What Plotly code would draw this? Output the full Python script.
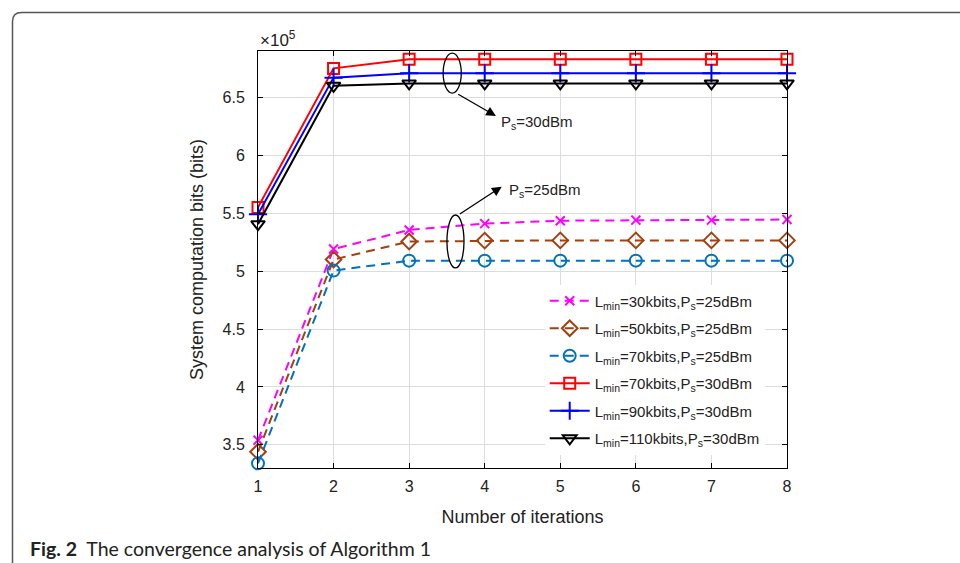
import plotly.graph_objects as go

iterations = [1, 2, 3, 4, 5, 6, 7, 8]
s30k_25 = [3.54, 5.19, 5.355, 5.41, 5.435, 5.44, 5.44, 5.445]
s50k_25 = [3.44, 5.10, 5.255, 5.263, 5.265, 5.265, 5.265, 5.265]
s70k_25 = [3.34, 5.004, 5.09, 5.09, 5.09, 5.09, 5.09, 5.09]
s70k_30 = [5.55, 6.75, 6.828, 6.828, 6.828, 6.828, 6.828, 6.828]
s90k_30 = [5.49, 6.67, 6.707, 6.707, 6.707, 6.707, 6.707, 6.707]
s110k_30 = [5.405, 6.60, 6.62, 6.62, 6.62, 6.62, 6.62, 6.62]

names = [
    "L<sub>min</sub>=30kbits,P<sub>s</sub>=25dBm",
    "L<sub>min</sub>=50kbits,P<sub>s</sub>=25dBm",
    "L<sub>min</sub>=70kbits,P<sub>s</sub>=25dBm",
    "L<sub>min</sub>=70kbits,P<sub>s</sub>=30dBm",
    "L<sub>min</sub>=90kbits,P<sub>s</sub>=30dBm",
    "L<sub>min</sub>=110kbits,P<sub>s</sub>=30dBm",
]
series = [s30k_25, s50k_25, s70k_25, s70k_30, s90k_30, s110k_30]
colors = ["#FF00FF", "#A2410F", "#0072BD", "#FF0000", "#0000FF", "#000000"]
symbols = ["x-thin-open", "diamond-open", "circle-open", "square-open", "cross-thin-open", "triangle-down-open"]
dashes = ["dash", "dash", "dash", "solid", "solid", "solid"]
sizes = [9, 12, 12, 11, 13, 12]

fig = go.Figure()
for i, (nm, ys, c, sym, d, sz) in enumerate(zip(names, series, colors, symbols, dashes, sizes)):
    fig.add_trace(go.Scatter(
        x=iterations, y=ys, name=nm, mode="lines+markers", legendgroup=f"g{i}",
        line=dict(color=c, width=2, dash=("9px,6px" if d == "dash" else "solid")),
        marker=dict(symbol=sym, size=sz, color=c, line=dict(color=c, width=2)),
        cliponaxis=False,
    ))

SANS = "Liberation Sans, Arial, sans-serif"

fig.update_layout(
    width=960, height=563,
    margin=dict(l=258, r=173, t=51, b=95),
    paper_bgcolor="white", plot_bgcolor="white",
    font=dict(family=SANS, size=16, color="#222"),
    showlegend=True,
    legend=dict(
        x=0.542, y=0.44, xanchor="left", yanchor="top",
        bgcolor="rgba(255,255,255,1)", borderwidth=0,
        font=dict(family=SANS, size=15, color="#222"),
        tracegroupgap=5, itemwidth=40,
    ),
    xaxis=dict(
        range=[1, 8], tickvals=iterations, ticktext=[str(v) for v in iterations],
        showline=True, linecolor="black", linewidth=1, mirror="ticks",
        ticks="inside", ticklen=5, tickcolor="black", ticklabelstandoff=4,
        tickfont=dict(size=16),
        showgrid=True, gridcolor="#DCDCDC", gridwidth=1, zeroline=False,
        title=dict(text="Number of iterations", font=dict(size=18), standoff=16),
    ),
    yaxis=dict(
        range=[3.3, 6.9], tickvals=[3.5, 4, 4.5, 5, 5.5, 6, 6.5],
        ticktext=["3.5", "4", "4.5", "5", "5.5", "6", "6.5"],
        showline=True, linecolor="black", linewidth=1, mirror="ticks",
        ticks="inside", ticklen=5, tickcolor="black", ticklabelstandoff=9,
        tickfont=dict(size=16),
        showgrid=True, gridcolor="#DCDCDC", gridwidth=1, zeroline=False,
        title=dict(text="System computation bits (bits)", font=dict(size=18), standoff=14),
    ),
)

# ellipses
fig.add_shape(type="circle", xref="x", yref="y", x0=3.45, x1=3.69, y0=6.537, y1=6.882,
              line=dict(color="black", width=1.3))
fig.add_shape(type="circle", xref="x", yref="y", x0=3.50, x1=3.726, y0=5.027, y1=5.484,
              line=dict(color="black", width=1.3))

# arrows + labels
fig.add_annotation(x=4.149, y=6.339, ax=3.629, ay=6.534, xref="x", yref="y", axref="x", ayref="y",
                   text="", showarrow=True, arrowhead=2, arrowsize=1.5, arrowwidth=1.3, arrowcolor="black")
fig.add_annotation(x=4.19, y=6.286, xref="x", yref="y", text="P<sub>s</sub>=30dBm", showarrow=False,
                   xanchor="left", yanchor="middle", font=dict(size=15, color="#222"))
fig.add_annotation(x=4.225, y=5.729, ax=3.651, ay=5.484, xref="x", yref="y", axref="x", ayref="y",
                   text="", showarrow=True, arrowhead=2, arrowsize=1.5, arrowwidth=1.3, arrowcolor="black")
fig.add_annotation(x=4.295, y=5.70, xref="x", yref="y", text="P<sub>s</sub>=25dBm", showarrow=False,
                   xanchor="left", yanchor="middle", font=dict(size=15, color="#222"))

# exponent label
fig.add_annotation(x=0.0, y=1.0, xref="paper", yref="paper", text="×10<sup>5</sup>", showarrow=False,
                   xanchor="left", yanchor="bottom", xshift=0, yshift=-1, font=dict(size=17, color="#222"))

# caption
fig.add_annotation(x=(28 - 258) / 529, y=(468 - 548) / 417, xref="paper", yref="paper",
                   text="<b>Fig. 2</b>\u00a0\u00a0The convergence analysis of Algorithm 1", showarrow=False,
                   xanchor="left", yanchor="middle",
                   font=dict(family="Lato, sans-serif", size=19.5, color="#222"))

# outer frame with rounded top-left corner (paper coords)
def px(xp):
    return (xp - 258) / 529
def py(yp):
    return (468 - yp) / 417
r = 9
path = (f"M {px(970)} {py(12.5)} L {px(12.5 + r)} {py(12.5)} "
        f"Q {px(12.5)} {py(12.5)} {px(12.5)} {py(12.5 + r)} L {px(12.5)} {py(575)}")
fig.add_shape(type="path", xref="paper", yref="paper", path=path,
              line=dict(color="#555", width=1.5))

fig.write_html("out.html")
